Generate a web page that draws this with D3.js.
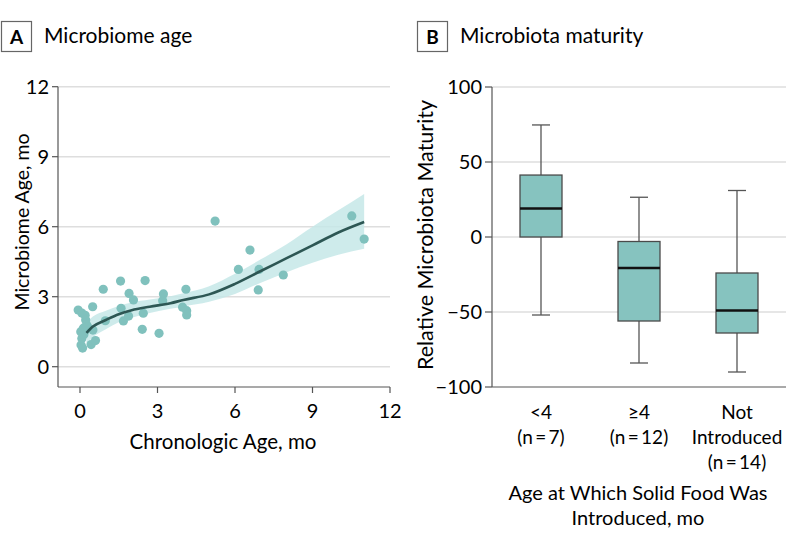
<!DOCTYPE html>
<html>
<head>
<meta charset="utf-8">
<script src="https://cdn.jsdelivr.net/npm/d3@7"></script>
<style>
  body { margin: 0; background: #fff; }
  svg { font-family: Lato, "Open Sans", sans-serif; }
</style>
</head>
<body>
<div id="chart"></div>
<script>
// Panel A: chronologic age vs microbiome age (months)
const chronoAge = [-0.07, 0.07, 0.2, 0.22, 0.26, 0.13, 0.03, 0.2, 0.07, 0.04, 0.1, 0.43, 0.6, 0.5, 0.49, 0.9, 0.98,
    1.57, 1.59, 1.68, 1.88, 1.9, 2.07, 2.45, 2.52, 2.41, 3.06, 3.23, 3.2, 4.1, 3.97, 4.13, 4.13,
    5.23, 6.13, 6.58, 6.93, 6.9, 7.87, 10.52, 11.0, 0.15, 0.3];
const microAge = [2.43, 2.3, 2.2, 2.0, 1.79, 1.65, 1.5, 1.55, 1.21, 0.93, 0.8, 0.95, 1.12, 1.57, 2.57, 3.32, 1.97,
    3.67, 2.5, 1.96, 2.17, 3.14, 2.86, 2.29, 3.69, 1.6, 1.43, 3.12, 2.83, 3.32, 2.55, 2.4, 2.22,
    6.24, 4.17, 5.0, 4.17, 3.29, 3.93, 6.46, 5.47, 1.38, 1.7];

// smoothed fit and confidence band
const fitX = [0.25, 0.5, 1, 1.5, 2, 2.7, 3.5, 4, 5, 6, 7, 8, 9, 10, 11];
const fitY = [1.45, 1.72, 2.0, 2.25, 2.42, 2.57, 2.72, 2.86, 3.1, 3.55, 4.1, 4.65, 5.2, 5.75, 6.2];
const bandLo = [0.95, 1.25, 1.6, 1.9, 2.1, 2.3, 2.48, 2.58, 2.78, 3.12, 3.6, 4.05, 4.45, 4.8, 5.05];
const bandHi = [1.9, 2.15, 2.4, 2.6, 2.75, 2.88, 3.02, 3.15, 3.45, 3.98, 4.6, 5.25, 6.0, 6.7, 7.4];

const xTicksA = [0, 3, 6, 9, 12];
const yTicksA = [0, 3, 6, 9, 12];

// Panel B: relative microbiota maturity box plots
const groups = ["<4", "≥4", "Not Introduced"];
const groupLabels = [["<4", "(n\u2009=\u20097)"], ["≥4", "(n\u2009=\u200912)"], ["Not", "Introduced", "(n\u2009=\u200914)"]];
const whiskerLo = [-52, -84, -90];
const q1 = [0, -56, -64];
const median = [19, -20.7, -49];
const q3 = [41.3, -3, -24];
const whiskerHi = [74.7, 26.5, 31];
const yTicksB = [-100, -50, 0, 50, 100];

const W = 798, H = 546;
const svg = d3.select("#chart").append("svg")
    .attr("width", W)
    .attr("height", H);

const axisCol = "#555";
const gridCol = "#dedede";
const teal = "#80c1bd";
const tickSize = "20px";
const titleSize = "20.5px";

// panel header
function header(x, letter, title) {
    svg.append("rect")
        .attr("x", x + 0.5).attr("y", 21.5)
        .attr("width", 30).attr("height", 30)
        .attr("fill", "#fff").attr("stroke", "#666").attr("stroke-width", 1.2);
    svg.append("text")
        .attr("x", x + 15.5).attr("y", 44)
        .attr("text-anchor", "middle")
        .style("font-size", "19px").style("font-weight", "bold")
        .text(letter);
    svg.append("text")
        .attr("x", x + 43).attr("y", 43)
        .style("font-size", "21px")
        .text(title);
}
header(1, "A", "Microbiome age");
header(417, "B", "Microbiota maturity");

// ---------- Panel A ----------
const xA = d3.scaleLinear().domain([0, 12]).range([80, 390]);
const yA = d3.scaleLinear().domain([0, 12]).range([366.7, 86.7]);
const axLeftA = 58, axBottomA = 387;

const gA = svg.append("g");

gA.selectAll("line.grid")
    .data(yTicksA)
    .enter().append("line")
    .attr("x1", axLeftA).attr("x2", xA(12))
    .attr("y1", d => yA(d)).attr("y2", d => yA(d))
    .attr("stroke", gridCol).attr("stroke-width", 1.5);

const bandData = fitX.map((x, i) => ({ x: x, lo: bandLo[i], hi: bandHi[i], y: fitY[i] }));

gA.append("path")
    .datum(bandData)
    .attr("d", d3.area()
        .x(d => xA(d.x))
        .y0(d => yA(d.lo))
        .y1(d => yA(d.hi))
        .curve(d3.curveMonotoneX))
    .attr("fill", "#c6e8e8")
    .attr("opacity", 0.85);

gA.selectAll("circle")
    .data(chronoAge.map((x, i) => ({ x: x, y: microAge[i] })))
    .enter().append("circle")
    .attr("cx", d => xA(d.x))
    .attr("cy", d => yA(d.y))
    .attr("r", 4.6)
    .attr("fill", teal);

gA.append("path")
    .datum(bandData)
    .attr("d", d3.line()
        .x(d => xA(d.x))
        .y(d => yA(d.y))
        .curve(d3.curveMonotoneX))
    .attr("fill", "none")
    .attr("stroke", "#2d5754")
    .attr("stroke-width", 2.6);

// axes
gA.append("line")
    .attr("x1", axLeftA).attr("x2", axLeftA)
    .attr("y1", yA(12)).attr("y2", axBottomA)
    .attr("stroke", axisCol).attr("stroke-width", 1.2);
gA.append("line")
    .attr("x1", axLeftA).attr("x2", xA(12))
    .attr("y1", axBottomA).attr("y2", axBottomA)
    .attr("stroke", axisCol).attr("stroke-width", 1.2);

gA.selectAll("line.ytick")
    .data(yTicksA).enter().append("line")
    .attr("x1", axLeftA - 6).attr("x2", axLeftA)
    .attr("y1", d => yA(d)).attr("y2", d => yA(d))
    .attr("stroke", axisCol).attr("stroke-width", 1.2);
gA.selectAll("text.ytick")
    .data(yTicksA).enter().append("text")
    .attr("x", axLeftA - 9).attr("y", d => yA(d) + 7)
    .attr("text-anchor", "end")
    .style("font-size", tickSize)
    .text(d => d);

gA.selectAll("line.xtick")
    .data(xTicksA).enter().append("line")
    .attr("x1", d => xA(d)).attr("x2", d => xA(d))
    .attr("y1", axBottomA).attr("y2", axBottomA + 6)
    .attr("stroke", axisCol).attr("stroke-width", 1.2);
gA.selectAll("text.xtick")
    .data(xTicksA).enter().append("text")
    .attr("x", d => xA(d)).attr("y", 418)
    .attr("text-anchor", "middle")
    .style("font-size", tickSize)
    .text(d => d);

gA.append("text")
    .attr("x", 223).attr("y", 449)
    .attr("text-anchor", "middle")
    .style("font-size", titleSize)
    .text("Chronologic Age, mo");

gA.append("text")
    .attr("transform", "translate(29,222) rotate(-90)")
    .attr("text-anchor", "middle")
    .style("font-size", "19.5px")
    .text("Microbiome Age, mo");

// ---------- Panel B ----------
const xB = d3.scaleBand().domain(groups).range([492, 786]).paddingInner(0).paddingOuter(0);
const yB = d3.scaleLinear().domain([-100, 100]).range([387, 87]);
const axLeftB = 492;
const boxW = 42, capW = 18;

const gB = svg.append("g");

gB.selectAll("line.grid")
    .data(yTicksB.filter(d => d > -100))
    .enter().append("line")
    .attr("x1", axLeftB).attr("x2", 786)
    .attr("y1", d => yB(d)).attr("y2", d => yB(d))
    .attr("stroke", gridCol).attr("stroke-width", 1.5);

const boxes = groups.map((g, i) => ({
    g: g, lo: whiskerLo[i], q1: q1[i], med: median[i], q3: q3[i], hi: whiskerHi[i]
}));

const bx = gB.selectAll("g.box")
    .data(boxes).enter().append("g")
    .attr("transform", d => "translate(" + (xB(d.g) + xB.bandwidth() / 2) + ",0)");

bx.append("line")
    .attr("x1", 0).attr("x2", 0)
    .attr("y1", d => yB(d.hi)).attr("y2", d => yB(d.lo))
    .attr("stroke", axisCol).attr("stroke-width", 1.3);
bx.append("line")
    .attr("x1", -capW / 2).attr("x2", capW / 2)
    .attr("y1", d => yB(d.hi)).attr("y2", d => yB(d.hi))
    .attr("stroke", axisCol).attr("stroke-width", 1.3);
bx.append("line")
    .attr("x1", -capW / 2).attr("x2", capW / 2)
    .attr("y1", d => yB(d.lo)).attr("y2", d => yB(d.lo))
    .attr("stroke", axisCol).attr("stroke-width", 1.3);
bx.append("rect")
    .attr("x", -boxW / 2).attr("width", boxW)
    .attr("y", d => yB(d.q3))
    .attr("height", d => yB(d.q1) - yB(d.q3))
    .attr("fill", "#86c3bf")
    .attr("stroke", "#4a4a4a").attr("stroke-width", 1.3);
bx.append("line")
    .attr("x1", -boxW / 2).attr("x2", boxW / 2)
    .attr("y1", d => yB(d.med)).attr("y2", d => yB(d.med))
    .attr("stroke", "#111").attr("stroke-width", 2.5);

// axes
gB.append("line")
    .attr("x1", axLeftB).attr("x2", axLeftB)
    .attr("y1", yB(100)).attr("y2", yB(-100))
    .attr("stroke", axisCol).attr("stroke-width", 1.2);
gB.append("line")
    .attr("x1", axLeftB).attr("x2", 786)
    .attr("y1", yB(-100)).attr("y2", yB(-100))
    .attr("stroke", axisCol).attr("stroke-width", 1.2);

gB.selectAll("line.ytick")
    .data(yTicksB).enter().append("line")
    .attr("x1", axLeftB - 7).attr("x2", axLeftB)
    .attr("y1", d => yB(d)).attr("y2", d => yB(d))
    .attr("stroke", axisCol).attr("stroke-width", 1.2);
gB.selectAll("text.ytick")
    .data(yTicksB).enter().append("text")
    .attr("x", axLeftB - 10).attr("y", d => yB(d) + 7)
    .attr("text-anchor", "end")
    .style("font-size", tickSize)
    .text(d => d < 0 ? "\u2212" + Math.abs(d) : d);

const cat = gB.selectAll("text.cat")
    .data(groups).enter().append("text")
    .attr("text-anchor", "middle")
    .style("font-size", "19px");
cat.each(function (d, i) {
    const t = d3.select(this);
    groupLabels[i].forEach((line, j) => {
        t.append("tspan")
            .attr("x", xB(d) + xB.bandwidth() / 2)
            .attr("y", 419 + j * 25)
            .text(line);
    });
});

const tB = gB.append("text")
    .attr("text-anchor", "middle")
    .style("font-size", "20px");
["Age at Which Solid Food Was", "Introduced, mo"].forEach((line, j) => {
    tB.append("tspan").attr("x", 638).attr("y", 500 + j * 25).text(line);
});

gB.append("text")
    .attr("transform", "translate(433,235) rotate(-90)")
    .attr("text-anchor", "middle")
    .style("font-size", "21.5px")
    .text("Relative Microbiota Maturity");
</script>
</body>
</html>
